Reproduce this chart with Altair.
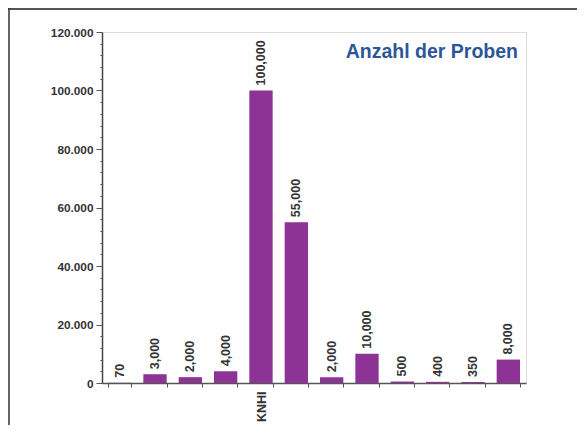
import altair as alt
import pandas as pd

categories = ["1", "2", "3", "4", "KNHI", "6", "7", "8", "9", "10", "11", "12"]
values = [70, 3000, 2000, 4000, 100000, 55000, 2000, 10000, 500, 400, 350, 8000]
y_ticks = list(range(0, 120001, 4000))
title_text = "Anzahl der Proben"

df = pd.DataFrame({"cat": categories, "val": values})

W, H = 424, 351
PAD = {"left": 94, "top": 24, "right": 51, "bottom": 42}
FONT = "Liberation Sans"

x_enc = alt.X(
    "cat:N",
    sort=categories,
    title=None,
    scale=alt.Scale(paddingInner=0.34, paddingOuter=0.17),
    axis=alt.Axis(
        tickBand="extent",
        labelExpr="datum.value == 'KNHI' ? 'KNHI' : ''",
        labelAngle=270,
        labelFont=FONT,
        labelFontSize=12.5,
        labelFontWeight="bold",
        labelColor="#333333",
        labelPadding=4,
        tickSize=4,
        tickColor="#555555",
        domainColor="#555555",
        domainWidth=1.5,
        grid=False,
    ),
)

y_enc = alt.Y(
    "val:Q",
    title=None,
    scale=alt.Scale(domain=[0, 120000], nice=False),
    axis=alt.Axis(
        values=y_ticks,
        labelExpr="datum.value % 20000 === 0 ? replace(format(datum.value, ','), ',', '.') : ''",
        labelFont=FONT,
        labelFontSize=11.8,
        labelFontWeight="bold",
        labelColor="#333333",
        labelPadding=3,
        tickSize={"condition": {"test": "datum.value % 20000 === 0", "value": 6}, "value": 2},
        tickColor="#555555",
        domainColor="#444444",
        domainWidth=1.5,
        grid=False,
    ),
)

base = alt.Chart(df).encode(x=x_enc, y=y_enc)

bars = base.mark_bar(color="#8E3396")

labels = base.mark_text(
    angle=270, align="left", baseline="middle", dx=5,
    font=FONT, fontSize=12.5, fontWeight="bold", color="#333333",
).encode(text=alt.Text("val:Q", format=",d"))

one = alt.Data(values=[{}])

title = alt.Chart(one).mark_text(
    align="right", baseline="middle", font=FONT, fontSize=19.5,
    fontWeight="bold", color="#2B579A",
).encode(x=alt.value(416), y=alt.value(20), text=alt.value(title_text))

frame_top = alt.Chart(one).mark_rule(color="#555555", strokeWidth=2).encode(
    x=alt.value(-94), x2=alt.value(W + 51), y=alt.value(-23)
)
frame_left = alt.Chart(one).mark_rule(color="#333333", strokeWidth=1.5).encode(
    x=alt.value(-93), y=alt.value(-24), y2=alt.value(H + 42)
)

chart = alt.layer(bars, labels, title, frame_top, frame_left).properties(
    width=W, height=H,
    autosize=alt.AutoSizeParams(type="none"),
    padding=PAD,
).configure_view(
    stroke="#b5b5b5", strokeWidth=1.5
).configure(background="white")

chart.save("out.html", embed_options={"renderer": "svg", "actions": False})
